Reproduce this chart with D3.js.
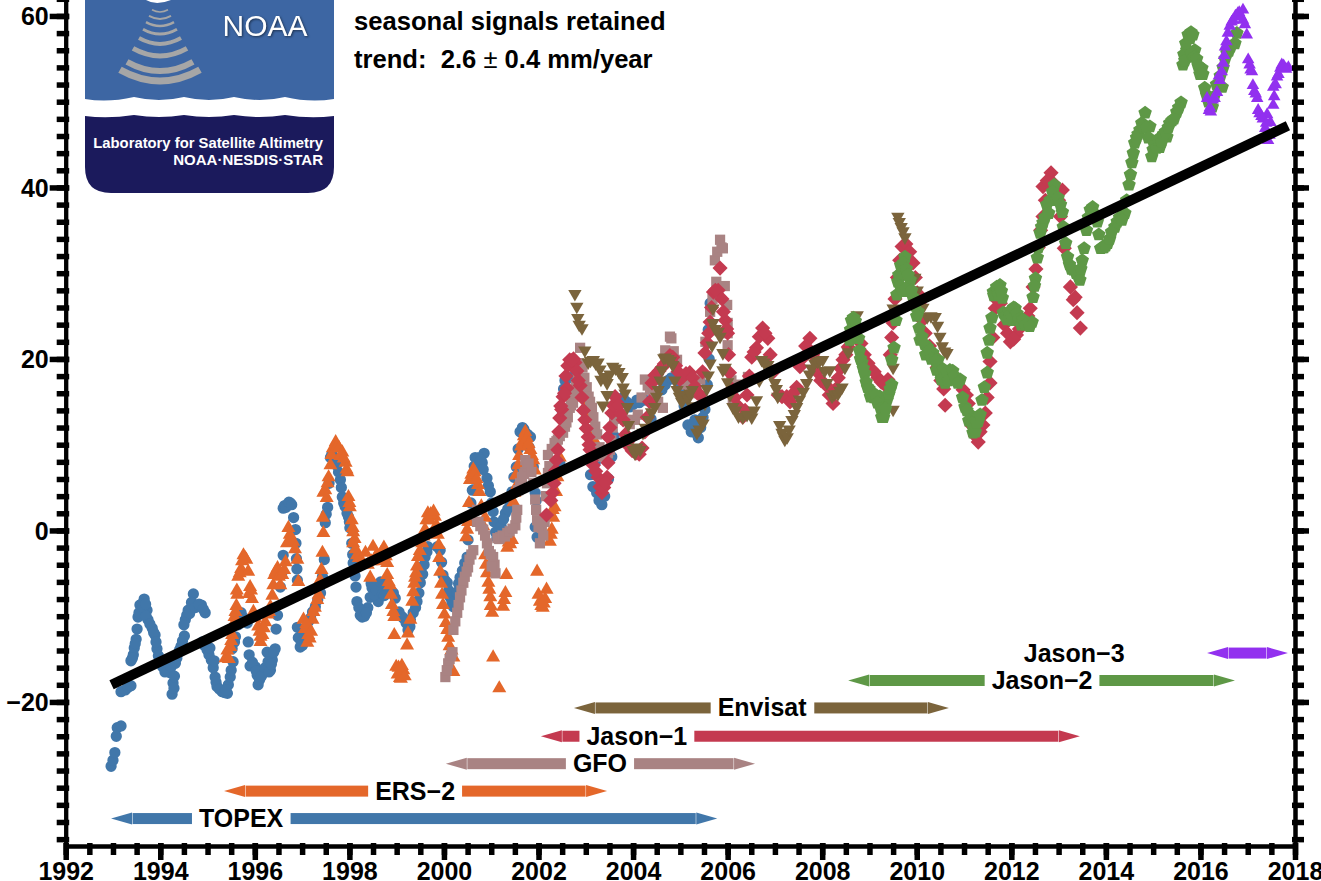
<!DOCTYPE html>
<html>
<head>
<meta charset="utf-8">
<script src="https://d3js.org/d3.v7.min.js"></script>
<style>
html, body { margin: 0; padding: 0; background: #fff; overflow: hidden; }
text { font-family: "Liberation Sans", Arial, sans-serif; font-weight: bold; fill: #000; }
</style>
</head>
<body>
<svg id="chart" width="1321" height="881"></svg>
<script>
// [year, sea level change in mm]
var topex = [[1992.96,-27.5],[1993.00,-26.8],[1993.04,-25.9],[1993.07,-24.0],[1993.09,-23.0],[1993.17,-22.8],[1993.17,-18.8],[1993.26,-18.6],[1993.32,-18.3],[1993.38,-18.1],[1993.38,-15.2],[1993.43,-14.5],[1993.45,-13.7],[1993.49,-12.7],[1993.53,-10.1],[1993.57,-8.7],[1993.66,-8.0],[1993.72,-9.3],[1993.74,-10.4],[1993.83,-11.4],[1993.89,-12.2],[1993.93,-13.8],[1994.00,-15.4],[1994.10,-16.5],[1994.21,-16.6],[1994.27,-17.8],[1994.25,-19.1],[1994.32,-15.5],[1994.38,-14.3],[1994.44,-13.5],[1994.51,-12.3],[1994.53,-10.4],[1994.59,-9.3],[1994.70,-7.4],[1994.78,-8.7],[1994.87,-8.7],[1994.95,-9.6],[1994.89,-13.0],[1994.99,-13.9],[1995.08,-15.1],[1995.16,-17.1],[1995.20,-18.2],[1995.31,-18.8],[1995.42,-19.0],[1995.44,-18.0],[1995.48,-17.1],[1995.54,-15.3],[1995.59,-12.4],[1995.71,-9.6],[1995.84,-10.8],[1995.86,-13.0],[1995.90,-15.8],[1996.01,-15.9],[1996.05,-16.9],[1996.07,-18.0],[1996.18,-16.6],[1996.33,-16.3],[1996.37,-15.1],[1996.26,-14.2],[1996.43,-13.8],[1996.48,-9.9],[1996.54,-6.6],[1996.60,-2.9],[1996.60,2.6],[1996.69,3.0],[1996.75,3.2],[1996.86,0.1],[1996.88,-3.3],[1996.90,-5.8],[1996.90,-11.3],[1996.96,-13.6],[1997.05,-12.5],[1997.22,-9.5],[1997.39,-7.3],[1997.47,-3.4],[1997.49,0.9],[1997.54,2.7],[1997.60,8.5],[1997.73,7.6],[1997.81,5.9],[1997.85,3.9],[1997.98,1.6],[1998.01,0.3],[1998.08,-3.8],[1998.14,-6.6],[1998.16,-8.3],[1998.27,-10.1],[1998.39,-9.0],[1998.48,-6.7],[1998.61,-8.3],[1998.61,-6.6],[1998.76,-6.0],[1998.97,-7.9],[1999.14,-10.2],[1999.24,-11.6],[1999.29,-10.4],[1999.43,-8.3],[1999.50,-6.1],[1999.60,-3.1],[1999.66,-1.9],[1999.92,-2.3],[1999.98,-5.2],[2000.07,-6.1],[2000.13,-7.8],[2000.20,-8.9],[2000.34,-5.5],[2000.49,-3.1],[2000.51,-1.1],[2000.60,4.7],[2000.66,8.5],[2000.85,9.0],[2000.81,7.9],[2000.91,6.1],[2000.98,4.5],[2001.04,2.2],[2001.09,-0.2],[2001.30,2.0],[2001.40,3.2],[2001.53,7.4],[2001.66,12.0],[2001.72,11.4],[2001.93,0.4],[2001.97,-0.8],[2001.83,10.9],[2001.89,7.4],[2001.93,4.4],[2002.45,7.9],[2002.56,17.5],[2002.73,17.9],[2003.15,5.1],[2003.34,3.0],[2003.20,7.9],[2003.55,8.6],[2003.79,15.5],[2003.93,14.4],[2004.08,15.2],[2004.25,15.2],[2004.61,16.4],[2004.68,17.0],[2004.89,17.6],[2005.16,12.3],[2005.31,12.9],[2005.38,10.8],[2005.52,14.1],[2005.57,17.0],[2005.59,23.4],[2005.63,26.5],
[1993.41,-14.9],[1993.47,-13.2],[1993.51,-11.5],[1993.55,-9.6],[1993.60,-8.6],[1993.63,-8.9],[1993.69,-8.6],[1993.70,-10.0],[1993.78,-10.9],[1993.86,-11.9],[1993.91,-13.0],[1993.96,-14.6],[1994.05,-15.9],[1994.15,-16.4],[1994.18,-15.6],[1994.23,-15.9],[1994.30,-17.0],[1994.29,-18.4],[1994.35,-14.9],[1994.41,-13.9],[1994.47,-12.9],[1994.50,-11.0],[1994.56,-9.9],[1994.62,-9.7],[1994.66,-8.4],[1994.74,-9.0],[1994.82,-8.6],[1994.91,-9.2],[1994.93,-13.4],[1995.03,-14.5],[1995.05,-13.7],[1995.12,-16.0],[1995.14,-15.2],[1995.18,-17.7],[1995.25,-18.5],[1995.36,-18.9],[1995.39,-18.6],[1995.50,-16.3],[1995.52,-13.8],[1995.57,-13.0],[1995.65,-11.0],[1995.68,-10.2],[1995.77,-10.2],[1995.80,-10.4],[1995.88,-14.5],[1995.95,-15.4],[1996.03,-16.4],[1996.10,-17.4],[1996.14,-17.0],[1996.22,-16.0],[1996.28,-15.3],[1996.30,-16.5],[1996.35,-15.6],[1996.40,-14.2],[1996.45,-11.5],[1996.57,-5.0],[1996.63,2.9],[1996.66,2.7],[1996.72,3.3],[1996.78,3.0],[1996.82,1.5],[1996.87,-1.5],[1996.89,-4.5],[1996.92,-12.5],[1996.98,-13.0],[1997.01,-13.4],[1997.08,-11.8],[1997.14,-10.6],[1997.18,-10.2],[1997.28,-8.9],[1997.33,-8.1],[1997.43,-5.4],[1997.51,1.9],[1997.57,5.5],[1997.63,8.9],[1997.66,8.3],[1997.70,7.9],[1997.77,6.8],[1997.83,5.0],[1997.88,3.2],[1997.91,2.8],[1997.95,2.0],[1998.00,1.0],[1998.05,-1.5],[1998.07,-2.8],[1998.12,-5.3],[1998.20,-9.0],[1998.23,-9.9],[1998.32,-10.0],[1998.36,-9.6],[1998.44,-7.8],[1998.46,-6.2],[1998.53,-7.5],[1998.57,-7.0],[1998.66,-6.0],[1998.70,-7.4],[1998.74,-7.6],[1998.82,-6.5],[1998.88,-7.0],[1998.93,-7.3],[1999.05,-9.5],[1999.10,-10.0],[1999.20,-10.8],[1999.28,-11.2],[1999.35,-9.6],[1999.40,-9.0],[1999.47,-7.3],[1999.55,-5.1],[1999.58,-4.0],[1999.64,-2.5],[1999.86,-1.9],[1999.95,-3.7],[2000.02,-5.8],[2000.10,-7.0],[2000.17,-8.4],[2000.27,-7.2],[2000.31,-6.2],[2000.39,-4.7],[2000.44,-3.8],[2000.54,1.5],[2000.57,3.2],[2000.62,6.0],[2000.64,7.5],[2000.71,8.4],[2000.75,8.5],[2000.78,8.2],[2000.83,7.1],[2000.94,5.2],[2001.01,3.2],[2001.06,1.0],[2001.12,-0.9],[2001.21,0.5],[2001.26,1.3],[2001.35,2.5],[2001.44,4.5],[2001.48,6.2],[2001.57,9.5],[2001.61,11.5],[2001.69,11.8],[2001.77,11.2],[2001.80,9.7],[2001.86,8.0],[2001.95,3.5],[2002.33,6.0],[2002.50,14.0],[2002.53,16.5],[2002.60,17.7],[2002.66,17.8],[2002.78,16.5],[2003.10,6.5],[2003.23,4.4],[2003.28,3.5],[2003.40,4.0],[2003.48,6.0],[2003.60,11.0],[2003.68,14.0],[2003.74,15.2],[2003.86,15.0],[2004.00,14.7],[2004.13,14.9],[2004.20,15.4],[2004.38,13.0],[2004.48,15.0],[2004.74,17.5],[2004.81,17.8],[2004.98,16.5],[2005.08,14.5],[2005.23,11.5],[2005.27,12.5],[2005.34,11.3],[2005.43,12.0],[2005.48,13.2],[2005.61,20.0]];

var ers2 = [[1995.38,-14.9],[1995.48,-13.6],[1995.52,-12.2],[1995.57,-10.1],[1995.61,-8.8],[1995.63,-7.5],[1995.65,-5.4],[1995.71,-4.5],[1995.76,-2.9],[1995.82,-3.4],[1995.90,-6.6],[1995.94,-8.0],[1995.97,-9.5],[1996.07,-11.2],[1996.12,-12.4],[1996.12,-13.0],[1996.22,-10.7],[1996.33,-8.9],[1996.37,-7.6],[1996.41,-5.2],[1996.48,-4.4],[1996.54,-6.4],[1996.65,-3.7],[1996.71,0.3],[1996.81,-1.3],[1996.90,-3.4],[1996.92,-6.0],[1997.03,-10.4],[1997.13,-12.2],[1997.11,-13.1],[1997.22,-10.4],[1997.24,-9.5],[1997.32,-8.1],[1997.41,-4.6],[1997.43,-2.6],[1997.45,-0.3],[1997.45,4.4],[1997.56,6.2],[1997.60,7.6],[1997.71,10.3],[1997.85,9.1],[1997.92,7.9],[1997.96,6.8],[1997.98,3.9],[1998.01,2.7],[1998.08,-0.2],[1998.08,-1.5],[1998.16,-2.9],[1998.29,-3.8],[1998.44,-5.5],[1998.50,-1.9],[1998.61,-3.4],[1998.73,-2.0],[1998.80,-3.8],[1998.80,-5.2],[1998.86,-6.4],[1998.90,-8.7],[1998.95,-10.1],[1998.95,-12.2],[1998.99,-15.9],[1999.07,-17.2],[1999.14,-16.3],[1999.22,-13.4],[1999.24,-12.0],[1999.29,-10.4],[1999.33,-8.3],[1999.35,-7.2],[1999.41,-5.0],[1999.45,-3.1],[1999.54,-1.5],[1999.60,0.1],[1999.66,2.0],[1999.75,1.8],[1999.81,1.6],[1999.87,-0.5],[1999.90,-3.2],[1999.92,-4.8],[1999.96,-7.5],[1999.98,-8.7],[2000.07,-11.6],[2000.20,-14.8],[2000.20,-16.5],[2000.47,-0.8],[2000.51,1.0],[2000.55,5.9],[2000.62,7.1],[2000.72,5.3],[2000.87,1.5],[2000.87,-2.9],[2000.91,-5.0],[2000.94,-6.1],[2000.98,-7.8],[2001.02,-9.6],[2001.04,-14.8],[2001.17,-18.4],[2001.25,-8.9],[2001.30,-7.3],[2001.34,-2.0],[2001.44,-1.1],[2001.47,3.3],[2001.55,5.3],[2001.57,7.6],[2001.66,10.3],[2001.72,11.5],[2001.83,9.4],[2001.89,8.2],[2001.97,-4.8],[2002.03,-8.3],[2002.09,-9.0],[2002.17,-6.9],[2002.24,-1.3],[2002.28,0.1],[2002.34,2.7],[2002.30,2.4],[2002.45,8.5],[2002.73,15.6],[2002.88,17.2],[2002.98,14.3],[2003.09,11.5],[2003.24,9.9],
[1995.42,-14.0],[1995.45,-15.0],[1995.50,-12.9],[1995.54,-11.0],[1995.59,-9.5],[1995.62,-7.0],[1995.68,-5.0],[1995.73,-3.6],[1995.79,-3.2],[1995.86,-4.8],[1995.88,-7.4],[1995.92,-7.0],[1996.00,-10.2],[1996.10,-11.8],[1996.16,-12.2],[1996.19,-11.4],[1996.27,-9.8],[1996.30,-9.5],[1996.39,-6.4],[1996.44,-4.8],[1996.51,-5.4],[1996.58,-5.2],[1996.62,-4.6],[1996.68,-1.5],[1996.74,-0.5],[1996.77,-1.0],[1996.85,-2.2],[1997.06,-11.5],[1997.09,-10.9],[1997.16,-12.6],[1997.19,-11.8],[1997.27,-9.0],[1997.35,-7.5],[1997.38,-5.8],[1997.44,1.5],[1997.49,4.7],[1997.54,5.5],[1997.52,3.8],[1997.62,8.8],[1997.65,9.6],[1997.74,9.8],[1997.78,9.6],[1997.81,8.7],[1997.88,8.4],[1997.94,7.1],[1998.00,3.2],[1998.05,1.2],[1998.07,0.3],[1998.11,-1.0],[1998.13,-2.2],[1998.20,-3.2],[1998.24,-3.9],[1998.34,-2.6],[1998.39,-4.0],[1998.47,-3.6],[1998.54,-3.2],[1998.58,-2.9],[1998.67,-2.6],[1998.70,-3.6],[1998.77,-3.0],[1998.83,-6.0],[1998.88,-7.5],[1998.93,-9.5],[1999.02,-16.8],[1999.04,-16.0],[1999.09,-17.3],[1999.11,-15.8],[1999.17,-17.0],[1999.37,-6.2],[1999.39,-5.5],[1999.43,-4.2],[1999.49,-2.4],[1999.57,-0.7],[1999.63,1.2],[1999.69,1.2],[1999.72,1.9],[1999.78,2.2],[1999.84,0.6],[1999.89,-1.7],[1999.94,-6.2],[2000.01,-9.8],[2000.04,-10.8],[2000.09,-12.5],[2000.12,-13.5],[2000.16,-14.0],[2000.49,0.1],[2000.53,3.2],[2000.58,6.5],[2000.65,6.8],[2000.69,6.0],[2000.75,4.5],[2000.79,2.8],[2000.83,0.5],[2000.89,-4.0],[2000.96,-6.9],[2000.99,-8.8],[2001.27,-8.1],[2001.32,-5.2],[2001.37,-1.4],[2001.40,-1.6],[2001.49,4.4],[2001.52,6.4],[2001.59,8.7],[2001.63,9.8],[2001.69,11.0],[2001.75,10.8],[2001.79,10.1],[2001.86,8.7],[2001.92,7.0],[2002.00,-7.5],[2002.06,-8.8],[2002.11,-8.5],[2002.14,-8.0],[2002.26,-0.5],[2002.31,1.5],[2002.37,4.5],[2002.40,6.2],[2002.78,15.9],[2002.82,16.5],[2002.93,15.5],[2003.03,13.0],[2003.16,10.6]];

var gfo = [[2000.03,-17.1],[2000.09,-15.5],[2000.18,-14.2],[2000.20,-11.6],[2000.28,-9.6],[2000.34,-7.8],[2000.41,-6.1],[2000.51,-4.3],[2000.62,-2.3],[2000.70,1.0],[2000.70,2.4],[2000.83,0.1],[2000.91,-1.5],[2001.04,-3.1],[2001.09,-5.0],[2001.19,-0.8],[2001.34,-0.3],[2001.51,0.6],[2001.55,2.4],[2001.57,4.7],[2001.72,6.8],[2001.72,8.2],[2001.89,5.5],[2001.93,3.6],[2001.97,1.2],[2002.03,-1.5],[2002.07,0.3],[2002.20,6.7],[2002.20,8.8],[2002.34,10.2],[2002.41,10.6],[2002.52,11.4],[2002.56,12.1],[2002.62,13.2],[2002.66,14.3],[2002.73,14.9],[2002.83,18.1],[2002.88,21.3],[2003.02,16.7],[2003.13,14.3],[2003.20,12.1],[2003.36,8.6],[2003.51,9.4],[2003.57,12.0],[2003.66,14.0],[2003.83,12.9],[2004.04,12.9],[2004.25,17.6],[2004.36,16.4],[2004.63,14.3],[2004.72,20.2],[2004.78,22.6],[2004.93,19.9],[2005.35,16.0],[2005.42,17.6],[2005.73,27.7],[2005.73,31.5],[2005.84,33.9],[2005.90,32.9],[2005.99,26.3],[2006.00,24.2],[2006.00,21.6],[2006.11,15.2],[2006.43,17.9],
[2000.06,-16.3],[2000.12,-15.0],[2000.15,-14.6],[2000.24,-10.6],[2000.31,-8.7],[2000.37,-7.0],[2000.44,-5.4],[2000.48,-4.8],[2000.54,-3.4],[2000.58,-2.8],[2000.73,1.0],[2000.77,0.5],[2000.87,-0.6],[2000.95,-2.4],[2000.99,-2.8],[2001.07,-4.0],[2001.13,-0.9],[2001.01,-4.2],[2001.17,-1.0],[2001.24,-0.6],[2001.29,-0.7],[2001.39,-0.1],[2001.45,0.2],[2001.53,1.5],[2001.61,5.5],[2001.65,6.2],[2001.69,6.6],[2001.76,7.5],[2001.79,7.8],[2001.85,6.8],[2001.95,2.4],[2002.00,0.4],[2002.10,-0.6],[2002.13,1.0],[2002.16,4.0],[2002.18,5.5],[2002.23,7.5],[2002.28,9.5],[2002.38,10.4],[2002.45,11.0],[2002.59,12.6],[2002.69,14.6],[2002.76,16.0],[2002.79,17.0],[2002.86,19.5],[2002.93,19.0],[2002.97,17.8],[2003.06,15.6],[2003.09,15.0],[2003.16,13.2],[2003.24,11.2],[2003.29,9.7],[2003.43,8.8],[2003.47,9.0],[2003.54,10.5],[2003.60,13.0],[2003.73,13.6],[2003.93,12.4],[2004.10,13.5],[2004.18,15.5],[2004.31,16.9],[2004.43,16.0],[2004.53,15.0],[2004.68,21.0],[2004.81,22.4],[2004.86,20.9],[2005.00,18.0],[2005.13,17.0],[2005.23,16.5],[2005.29,17.3],[2005.53,22.0],[2005.63,25.5],[2005.68,27.0],[2005.76,29.0],[2005.78,32.5],[2005.87,33.0],[2005.94,28.5],[2006.00,23.0],[2006.08,17.5],[2006.28,17.0]];

var jason1 = [[2002.17,1.8],[2002.30,4.4],[2002.41,9.4],[2002.45,13.1],[2002.49,14.1],[2002.52,15.6],[2002.60,16.6],[2002.66,19.9],[2002.77,19.6],[2002.88,16.9],[2002.98,12.9],[2003.05,10.9],[2003.09,9.4],[2003.26,6.2],[2003.34,4.4],[2003.45,6.2],[2003.47,7.9],[2003.47,10.9],[2003.55,13.7],[2003.66,14.9],[2003.79,12.9],[2003.93,9.7],[2004.19,9.6],[2004.30,13.2],[2004.40,17.2],[2004.46,18.1],[2004.61,19.0],[2004.84,20.2],[2004.99,17.6],[2005.20,18.4],[2005.42,15.8],[2005.52,20.7],[2005.57,21.9],[2005.63,24.3],[2005.80,28.0],[2005.84,30.6],[2005.95,24.5],[2006.00,23.0],[2006.04,18.4],[2006.32,13.2],[2006.41,15.8],[2006.51,20.2],[2006.61,21.3],[2006.74,23.6],[2006.85,22.4],[2007.25,15.6],[2007.46,16.7],[2007.53,19.1],[2007.74,22.4],[2008.23,14.8],[2008.34,17.8],[2008.44,19.9],[2008.55,21.4],[2008.97,19.5],[2009.18,17.8],[2009.39,17.6],[2009.50,24.2],[2009.69,33.1],[2009.92,31.2],[2010.01,27.7],[2010.18,23.0],[2010.43,19.0],[2010.60,14.6],[2010.98,16.4],[2011.30,10.3],[2011.45,13.7],[2011.55,17.2],[2011.55,19.7],[2011.66,25.9],[2011.98,22.0],[2012.40,25.9],[2012.46,28.4],[2012.67,36.6],[2012.67,40.1],[2012.84,41.7],[2013.08,39.7],[2013.04,36.6],[2013.12,32.9],[2013.25,28.4],[2013.31,26.9],[2013.35,27.2],[2013.39,25.4],[2013.46,23.6],
[2002.26,3.5],[2002.33,5.5],[2002.36,7.0],[2002.38,8.2],[2002.43,11.5],[2002.47,14.5],[2002.55,16.0],[2002.58,18.0],[2002.62,19.2],[2002.70,19.8],[2002.74,20.0],[2002.81,18.6],[2002.84,17.5],[2002.92,15.5],[2002.95,14.0],[2003.01,11.9],[2003.07,10.0],[2003.12,8.2],[2003.16,7.6],[2003.21,6.9],[2003.30,5.1],[2003.38,5.0],[2003.42,5.6],[2003.49,9.5],[2003.51,12.0],[2003.58,14.6],[2003.62,15.6],[2003.70,14.6],[2003.74,13.6],[2003.84,11.2],[2003.88,10.3],[2003.98,9.3],[2004.06,9.0],[2004.13,8.9],[2004.25,11.5],[2004.35,15.0],[2004.50,18.2],[2004.55,18.6],[2004.66,19.4],[2004.73,19.8],[2004.78,20.4],[2004.90,19.2],[2004.95,18.5],[2005.05,17.9],[2005.12,18.3],[2005.26,17.8],[2005.31,16.8],[2005.36,16.0],[2005.47,18.5],[2005.60,23.0],[2005.66,26.0],[2005.70,27.8],[2005.74,28.0],[2005.88,27.0],[2005.91,25.5],[2005.98,23.5],[2006.02,20.5],[2006.09,16.5],[2006.15,15.5],[2006.22,14.5],[2006.37,14.0],[2006.46,18.0],[2006.56,20.8],[2006.67,22.6],[2006.79,23.0],[2006.90,20.5],[2006.97,18.5],[2007.07,15.8],[2007.15,15.6],[2007.32,15.0],[2007.39,16.0],[2007.57,20.0],[2007.65,21.5],[2007.80,20.5],[2007.89,18.5],[2007.97,17.5],[2008.07,17.0],[2008.15,15.8],[2008.29,16.5],[2008.39,18.9],[2008.50,20.5],[2008.82,21.8],[2008.89,20.5],[2009.04,18.8],[2009.10,18.5],[2009.25,17.3],[2009.32,17.0],[2009.44,20.5],[2009.47,22.5],[2009.54,27.0],[2009.59,29.5],[2009.64,31.5],[2009.77,33.4],[2009.85,32.5],[2009.97,29.5],[2010.05,26.5],[2010.12,24.5],[2010.27,21.5],[2010.35,20.5],[2010.51,17.5],[2010.57,16.5],[2010.72,17.8],[2010.82,17.5],[2011.05,15.8],[2011.09,14.8],[2011.17,12.2],[2011.24,11.0],[2011.34,11.5],[2011.40,12.3],[2011.49,15.5],[2011.61,22.5],[2011.69,26.9],[2011.77,26.5],[2011.85,24.0],[2011.92,23.0],[2012.05,22.3],[2012.11,22.8],[2012.17,23.5],[2012.27,24.5],[2012.35,25.0],[2012.52,30.5],[2012.57,33.0],[2012.62,35.0],[2012.72,38.5],[2012.76,40.8],[2012.89,40.5],[2012.94,40.0],[2013.00,38.5]];

var envisat = [[2002.77,27.6],[2002.81,26.1],[2002.83,24.8],[2002.92,23.6],[2003.05,19.6],[2003.26,19.6],[2003.32,17.6],[2003.36,14.6],[2003.45,17.2],[2003.45,15.8],[2003.57,19.1],[2003.77,17.9],[2003.79,16.7],[2003.88,14.4],[2003.90,12.3],[2004.00,9.4],[2004.15,9.4],[2004.21,11.4],[2004.32,12.9],[2004.46,14.4],[2004.53,16.4],[2004.61,18.7],[2004.68,20.2],[2004.84,19.3],[2004.93,16.4],[2005.10,15.8],[2005.25,16.4],[2005.35,11.4],[2005.48,12.5],[2005.59,18.1],[2005.63,19.5],[2005.67,21.6],[2005.69,24.2],[2005.69,25.9],[2005.84,22.6],[2005.90,20.7],[2005.90,18.7],[2006.00,17.3],[2006.11,14.4],[2006.32,13.2],[2006.51,13.2],[2006.61,15.2],[2006.72,19.9],[2006.85,19.3],[2007.00,17.2],[2007.06,15.6],[2007.10,12.3],[2007.15,11.4],[2007.21,10.6],[2007.36,12.9],[2007.46,14.4],[2007.67,17.2],[2007.84,19.5],[2008.01,19.9],[2008.10,17.2],[2008.16,18.7],[2008.21,15.6],[2008.42,16.7],[2008.48,19.0],[2008.55,20.8],[2008.74,25.1],[2009.50,19.0],[2009.50,14.1],[2009.50,25.9],[2009.60,36.6],[2009.67,35.4],[2009.75,34.2],[2010.01,28.0],[2010.22,24.9],[2010.39,24.9],[2010.49,22.6],[2010.64,20.7],
[2002.86,24.0],[2002.98,21.0],[2003.10,19.8],[2003.16,19.9],[2003.21,19.5],[2003.30,18.8],[2003.40,17.9],[2003.51,18.2],[2003.63,18.9],[2003.70,18.5],[2003.83,16.0],[2003.94,10.8],[2004.04,9.0],[2004.08,9.7],[2004.26,12.0],[2004.39,13.8],[2004.50,15.6],[2004.57,17.5],[2004.65,20.1],[2004.74,20.0],[2004.79,19.8],[2004.88,17.5],[2004.98,15.6],[2005.03,15.0],[2005.16,15.3],[2005.20,16.0],[2005.30,14.5],[2005.40,11.8],[2005.43,12.9],[2005.52,14.8],[2005.56,16.5],[2005.74,23.5],[2005.80,23.2],[2005.95,19.0],[2006.05,15.8],[2006.17,14.0],[2006.23,13.3],[2006.41,13.5],[2006.56,14.0],[2006.67,17.5],[2006.77,19.6],[2006.92,18.2],[2007.03,16.5],[2007.18,11.0],[2007.26,10.9],[2007.30,11.8],[2007.41,13.6],[2007.52,15.3],[2007.60,16.2],[2007.73,18.2],[2007.77,18.9],[2007.90,19.7],[2007.95,19.8],[2008.05,18.6],[2008.26,15.9],[2008.33,15.9],[2008.37,16.3],[2008.60,22.0],[2008.67,23.5],[2009.63,36.0],[2009.71,34.9],[2009.96,29.5],[2010.07,27.0],[2010.13,26.0],[2010.30,25.0],[2010.44,23.9],[2010.54,21.5],[2010.59,20.9]];

var jason2 = [[2008.58,22.2],[2008.62,24.5],[2008.75,23.7],[2008.79,21.0],[2008.84,19.6],[2008.90,18.3],[2008.96,16.7],[2009.05,15.8],[2009.22,15.6],[2009.26,13.2],[2009.37,15.2],[2009.47,17.0],[2009.47,19.9],[2009.52,21.3],[2009.56,24.5],[2009.58,27.5],[2009.60,29.0],[2009.69,30.1],[2009.75,31.9],[2009.86,29.2],[2009.92,27.2],[2010.03,25.5],[2010.07,22.2],[2010.22,21.4],[2010.34,20.7],[2010.45,19.9],[2010.49,18.4],[2010.60,17.2],[2010.70,18.7],[2010.92,17.6],[2011.02,14.4],[2011.13,13.5],[2011.19,11.4],[2011.30,12.7],[2011.38,15.2],[2011.43,16.7],[2011.49,18.4],[2011.49,20.7],[2011.53,22.2],[2011.55,23.6],[2011.59,24.8],[2011.62,27.8],[2011.76,28.6],[2011.81,27.1],[2011.83,25.4],[2012.02,24.5],[2012.08,25.9],[2012.34,24.0],[2012.44,24.3],[2012.46,27.2],[2012.51,29.4],[2012.55,31.8],[2012.61,34.7],[2012.67,35.9],[2012.82,38.5],[2012.91,40.3],[2013.08,37.1],[2013.10,35.4],[2013.19,31.9],[2013.31,30.4],[2013.42,29.6],[2013.50,31.5],[2013.54,32.9],[2013.59,35.0],[2013.67,37.4],[2013.82,36.0],[2013.89,32.9],[2014.04,33.5],[2014.19,35.4],[2014.40,37.0],[2014.44,38.5],[2014.49,40.3],[2014.55,42.9],[2014.61,45.2],[2014.72,46.7],[2014.83,48.7],[2014.93,47.1],[2014.97,43.6],[2015.14,44.7],[2015.29,45.9],[2015.35,47.5],[2015.50,48.8],[2015.59,49.9],[2015.63,54.3],[2015.71,56.0],[2015.80,58.1],[2015.88,56.0],[2016.03,53.9],[2016.09,51.6],[2016.25,49.4],[2016.46,51.7],[2016.48,54.0],[2016.56,55.7],[2016.73,56.8],[2016.77,58.0],
[2008.60,23.4],[2008.66,24.8],[2008.70,24.4],[2008.77,22.4],[2008.81,20.0],[2008.87,18.9],[2008.93,17.3],[2008.99,16.5],[2009.02,15.6],[2009.09,15.5],[2009.13,15.8],[2009.17,14.9],[2009.24,14.2],[2009.30,13.2],[2009.34,14.2],[2009.41,15.9],[2009.44,16.5],[2009.62,29.8],[2009.66,30.9],[2009.72,31.2],[2009.78,30.5],[2009.82,29.8],[2009.65,28.5],[2009.71,27.9],[2009.77,28.2],[2009.89,28.0],[2009.97,26.2],[2010.00,25.0],[2010.05,23.6],[2010.11,22.6],[2010.17,21.7],[2010.19,20.5],[2010.27,21.0],[2010.31,20.0],[2010.40,19.8],[2010.42,18.7],[2010.52,17.6],[2010.56,18.8],[2010.64,18.4],[2010.67,17.5],[2010.76,18.6],[2010.80,18.0],[2010.87,17.2],[2010.97,15.5],[2011.06,14.0],[2011.10,12.8],[2011.16,12.5],[2011.24,11.5],[2011.27,12.6],[2011.34,13.5],[2011.63,27.4],[2011.69,28.4],[2011.73,27.5],[2011.79,27.9],[2011.87,25.0],[2011.91,24.6],[2011.95,25.5],[2011.99,25.2],[2012.05,26.0],[2012.12,25.3],[2012.16,24.6],[2012.21,24.0],[2012.25,24.6],[2012.30,24.0],[2012.39,23.8],[2012.49,28.5],[2012.57,33.0],[2012.64,35.4],[2012.71,36.5],[2012.75,38.0],[2012.79,37.0],[2012.87,39.5],[2012.95,38.5],[2012.99,38.8],[2013.04,38.0],[2013.15,33.5],[2013.23,31.0],[2013.27,30.5],[2013.37,30.0],[2013.45,29.2],[2013.47,30.5],[2013.63,36.5],[2013.72,37.7],[2013.77,36.9],[2013.85,34.5],[2013.93,33.0],[2013.96,33.0],[2014.00,33.2],[2014.08,34.0],[2014.12,34.8],[2014.24,36.0],[2014.29,36.5],[2014.34,36.2],[2014.52,41.5],[2014.58,44.0],[2014.65,45.8],[2014.68,46.2],[2014.76,47.5],[2014.80,47.0],[2014.86,47.0],[2014.90,45.8],[2015.00,44.4],[2015.03,44.9],[2015.07,44.6],[2015.10,45.6],[2015.18,45.3],[2015.22,46.2],[2015.26,46.5],[2015.32,47.0],[2015.40,47.8],[2015.44,48.0],[2015.54,49.3],[2015.65,55.5],[2015.67,54.8],[2015.69,56.8],[2015.74,57.8],[2015.78,57.4],[2015.84,57.8],[2015.81,55.6],[2015.86,55.2],[2015.92,55.0],[2015.95,54.2],[2015.99,53.2],[2016.05,53.2],[2016.13,50.8],[2016.17,50.0],[2016.22,50.2],[2016.29,50.6],[2016.34,52.0],[2016.42,53.0],[2016.52,55.0],[2016.60,55.9],[2016.64,56.4]];

var jason3 = [[2016.14,50.4],[2016.18,49.0],[2016.35,51.1],[2016.41,52.5],[2016.48,54.5],[2016.52,56.4],[2016.58,58.0],[2016.69,59.5],[2016.79,60.3],[2016.90,60.7],[2016.90,59.5],[2016.98,57.8],[2017.01,54.9],[2017.09,53.5],[2017.11,51.9],[2017.20,50.4],[2017.22,49.0],[2017.37,46.9],[2017.41,48.5],[2017.43,45.5],[2017.48,47.6],[2017.54,49.6],[2017.54,51.7],[2017.62,52.9],[2017.69,53.9],[2017.86,54.0],
[2016.20,49.3],[2016.22,48.8],[2016.26,50.2],[2016.30,50.4],[2016.39,53.0],[2016.45,53.5],[2016.50,55.4],[2016.55,57.0],[2016.62,58.8],[2016.66,59.3],[2016.74,60.0],[2016.82,60.4],[2016.86,59.9],[2016.94,59.0],[2017.04,54.3],[2017.06,53.7],[2017.14,51.2],[2017.17,50.9],[2017.25,48.6],[2017.29,48.3],[2017.32,48.0],[2017.39,47.5],[2017.46,46.1],[2017.56,50.6],[2017.59,52.0],[2017.65,53.2],[2017.72,54.3],[2017.76,54.2],[2017.81,53.8]];

var trendLine = [[1992.97,-18.0],[2017.85,47.2]];

// mission bars: name, start, end, row level, label position (year)
var missionNames = ["TOPEX", "ERS\u22122", "GFO", "Jason\u22121", "Envisat", "Jason\u22122", "Jason\u22123"];
var missionStart = [1992.96, 1995.35, 2000.04, 2002.05, 2002.75, 2008.55, 2016.14];
var missionEnd = [2005.78, 2003.45, 2006.58, 2013.45, 2010.68, 2016.73, 2017.85];
var missionRow = [-33.6, -30.4, -27.2, -24.0, -20.7, -17.5, -14.3];
var missionLabelAt = [1995.71, 1999.39, 2003.30, 2004.08, 2006.73, 2012.65, 2013.33];
var missionColors = ["#4177aa", "#e4672a", "#a98383", "#c43a50", "#7b643c", "#5e9846", "#9230ef"];

var yearMajor = d3.range(1992, 2019, 2);
var yearMinor = d3.range(1992, 2018.1, 0.5);
var levelMajor = [-20, 0, 20, 40, 60];
var levelMinor = d3.range(-36, 63, 2);

var svg = d3.select("#chart");
var x = d3.scaleLinear().domain([1992, 2018]).range([65.7, 1295]);
var y = d3.scaleLinear().domain([-36.8, 61.86]).range([846, 0]);

var pentagon = {
    draw: function(ctx, size) {
        var r = Math.sqrt(size / 2.378);
        for (var i = 0; i < 5; i++) {
            var a = -Math.PI / 2 + i * 2 * Math.PI / 5;
            if (i == 0) ctx.moveTo(r * Math.cos(a), r * Math.sin(a));
            else ctx.lineTo(r * Math.cos(a), r * Math.sin(a));
        }
        ctx.closePath();
    }
};

function drawSeries(data, type, size, color, rotate) {
    svg.append("g").selectAll("path")
        .data(data).enter()
        .append("path")
        .attr("d", d3.symbol().type(type).size(size))
        .attr("fill", color)
        .attr("transform", function(d) {
            return "translate(" + x(d[0]) + "," + y(d[1]) + ") rotate(" + (rotate || 0) + ")";
        });
}

// logo, behind the axes
function drawLogo() {
    var logo = svg.append("g");
    var left = 85, right = 334, bottom = 193, r = 26;
    logo.append("path")
        .attr("fill", "#3d66a3")
        .attr("d", "M" + left + ",-5H" + right + "V99Q310,103 285,97Q260,103 234,97Q209,103 184,97Q159,103 134,97Q108,103 " + left + ",99Z");
    logo.append("path")
        .attr("fill", "#1b1a5c")
        .attr("d", "M" + left + ",116Q108,119 134,115Q159,119 184,115Q209,119 234,115Q260,119 285,115Q310,119 " + right + ",116V" + (bottom - r) +
            "Q" + right + "," + bottom + " " + (right - r) + "," + bottom + "H" + (left + r) + "Q" + left + "," + bottom + " " + left + "," + (bottom - r) + "Z");

    // radar arcs
    var arcs = [[12, 8, 1.5], [19, 11, 2], [26, 14, 2.5], [34, 17, 3], [44, 21, 4], [56, 27, 5], [71, 33, 6], [81, 40, 7]];
    logo.selectAll(".arc").data(arcs).enter().append("path")
        .attr("class", "arc")
        .attr("fill", "none")
        .attr("stroke", "#a6a6a6")
        .attr("stroke-width", function(d) { return d[2]; })
        .attr("d", function(d) {
            return "M" + (160 - d[1]) + "," + (d[0] - d[1] * 0.28) + "Q160," + (d[0] + d[1] * 0.28) + " " + (160 + d[1]) + "," + (d[0] - d[1] * 0.28);
        });
    logo.append("path").attr("fill", "#fff").attr("d", "M146,0Q156,6 171,0Z");

    logo.append("text").text("NOAA")
        .attr("x", 265).attr("y", 36)
        .attr("text-anchor", "middle")
        .style("font-size", "30px").style("font-weight", "normal")
        .style("fill", "#fff")
        .style("filter", "drop-shadow(1px 1px 1px rgba(0,0,0,0.5))");
    logo.append("text").text("Laboratory for Satellite Altimetry")
        .attr("x", 323).attr("y", 148)
        .attr("text-anchor", "end")
        .style("font-size", "14.8px").style("fill", "#fff");
    logo.append("text").text("NOAA\u00b7NESDIS\u00b7STAR")
        .attr("x", 323).attr("y", 165)
        .attr("text-anchor", "end")
        .style("font-size", "15px").style("fill", "#fff");
}

function drawAxes() {
    var bottomMinor = svg.append("g").attr("transform", "translate(0,846)")
        .call(d3.axisBottom(x).tickValues(yearMinor).tickSizeOuter(0).tickFormat(""));
    bottomMinor.selectAll("line").attr("y1", -3).attr("y2", 9);
    var bottomMajor = svg.append("g").attr("transform", "translate(0,846)")
        .call(d3.axisBottom(x).tickValues(yearMajor).tickSizeOuter(0).tickFormat(d3.format("d")));
    bottomMajor.selectAll("line").attr("y1", -3).attr("y2", 14);
    bottomMajor.selectAll("text").attr("y", 34).attr("dy", 0);

    var leftMinor = svg.append("g").attr("transform", "translate(65.7,0)")
        .call(d3.axisLeft(y).tickValues(levelMinor).tickSizeOuter(0).tickFormat(""));
    leftMinor.selectAll("line").attr("x1", 3.5).attr("x2", -9);
    var leftMajor = svg.append("g").attr("transform", "translate(65.7,0)")
        .call(d3.axisLeft(y).tickValues(levelMajor).tickSizeOuter(0)
            .tickFormat(function(d) { return d < 0 ? "\u2212" + (-d) : d; }));
    leftMajor.selectAll("line").attr("x1", 3.5).attr("x2", -16);
    leftMajor.selectAll("text").attr("x", -17).attr("dy", "0.35em");

    var rightMinor = svg.append("g").attr("transform", "translate(1295,0)")
        .call(d3.axisRight(y).tickValues(levelMinor).tickSizeOuter(0).tickFormat(""));
    rightMinor.selectAll("line").attr("x1", -3).attr("x2", 9);
    var rightMajor = svg.append("g").attr("transform", "translate(1295,0)")
        .call(d3.axisRight(y).tickValues(levelMajor).tickSizeOuter(0).tickFormat(""));
    rightMajor.selectAll("line").attr("x1", -3).attr("x2", 14);

    svg.selectAll(".domain").attr("stroke", "#000").attr("stroke-width", 4);
    svg.selectAll(".tick line").attr("stroke", "#000").attr("stroke-width", 5.5);
    svg.selectAll(".tick text").style("font-size", "25px");
}

function drawMissions() {
    var headLen = 21, barH = 5.5, headH = 6;
    missionNames.forEach(function(name, i) {
        var x0 = x(missionStart[i]), x1 = x(missionEnd[i]), yy = y(missionRow[i]);
        var g = svg.append("g");
        g.append("path").attr("fill", missionColors[i])
            .attr("d", "M" + x0 + "," + yy + "L" + (x0 + headLen) + "," + (yy - headH) + "V" + (yy + headH) + "Z");
        g.append("path").attr("fill", missionColors[i])
            .attr("d", "M" + x1 + "," + yy + "L" + (x1 - headLen) + "," + (yy - headH) + "V" + (yy + headH) + "Z");
        g.append("rect")
            .attr("x", x0 + headLen + 0.5).attr("width", x1 - x0 - 2 * headLen - 1)
            .attr("y", yy - barH).attr("height", 2 * barH)
            .attr("fill", missionColors[i]);
        var label = g.append("text").text(name)
            .attr("x", x(missionLabelAt[i])).attr("y", yy + 8.5)
            .attr("text-anchor", "middle")
            .style("font-size", "25px");
        var box = label.node().getBBox();
        g.insert("rect", "text")
            .attr("x", box.x - 7).attr("width", box.width + 14)
            .attr("y", yy - 8).attr("height", 16)
            .attr("fill", "#fff");
    });
}

drawLogo();
drawMissions();

drawSeries(topex, d3.symbolCircle, 100, missionColors[0]);
drawSeries(ers2, d3.symbolTriangle, 85, missionColors[1]);
drawSeries(gfo, d3.symbolSquare, 105, missionColors[2]);
drawSeries(jason1, d3.symbolSquare, 115, missionColors[3], 45);
drawSeries(envisat, d3.symbolTriangle, 77, missionColors[4], 180);
drawSeries(jason2, pentagon, 120, missionColors[5]);
drawSeries(jason3, d3.symbolTriangle, 68, missionColors[6]);

svg.append("path")
    .attr("fill", "none").attr("stroke", "#000").attr("stroke-width", 10)
    .attr("d", d3.line().x(function(d) { return x(d[0]); }).y(function(d) { return y(d[1]); })(trendLine));

drawAxes();

svg.append("text").text("seasonal signals retained")
    .attr("x", 354).attr("y", 30).style("font-size", "25.6px");
var trend = svg.append("text").attr("x", 354).attr("y", 68).style("font-size", "25.6px");
trend.append("tspan").text("trend:\u00a0\u00a02.6 ");
trend.append("tspan").text("\u00b1").style("font-weight", "normal");
trend.append("tspan").text(" 0.4 mm/year");
</script>
</body>
</html>
